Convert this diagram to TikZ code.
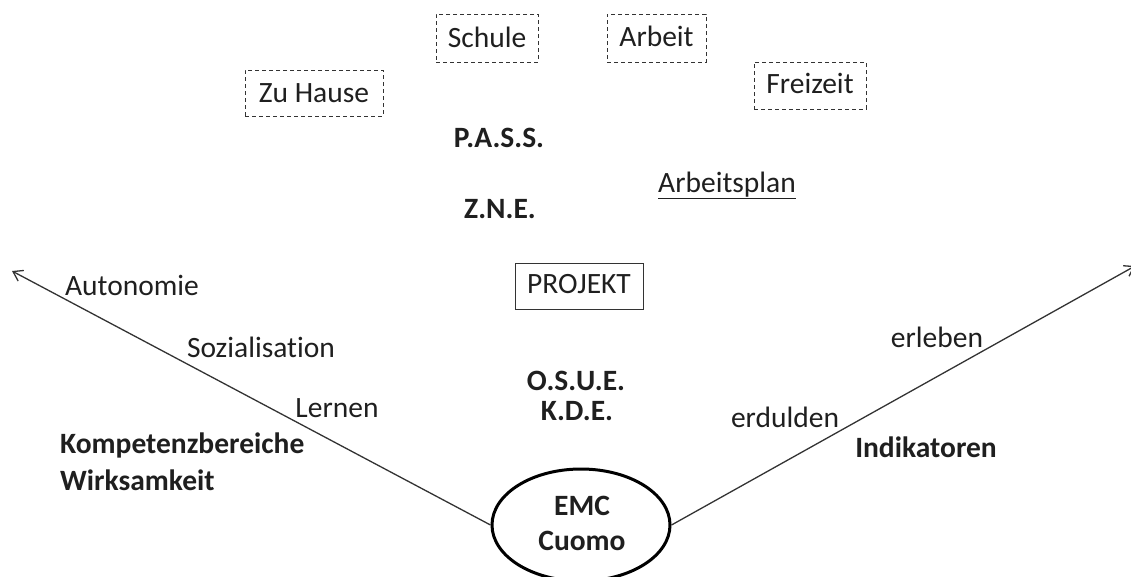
\documentclass[tikz,border=0pt]{standalone}
\usepackage{fontspec}
\setmainfont{Carlito}[Ligatures={NoCommon}]
\usetikzlibrary{shapes.geometric,arrows.meta}
\begin{document}
\begin{tikzpicture}[x=1pt,y=-1pt,
  every node/.style={font=\fontsize{29.5}{34}\selectfont, text=black!88, inner sep=0pt},
  lbl/.style={anchor=base},
  lblw/.style={anchor=base west},
  bld/.style={font=\fontsize{29.5}{34}\selectfont\bfseries},
  dbox/.style={draw=black!80, dashed, dash pattern=on 4pt off 3pt, line width=1pt},
  sbox/.style={draw=black!80, line width=1pt},
  axis/.style={draw=black!80, line width=1.3pt, -{Straight Barb[length=9pt,width=12pt]}}
]
\useasboundingbox (0,0) rectangle (1131,576);

% dashed boxes
\node[dbox, minimum width=102pt, minimum height=48pt] (schule) at (487,38) {};
\node[lbl] (schuleT) at (schule.center |- 0,47) {Schule};
\node[dbox, minimum width=99pt, minimum height=48pt] (arbeit) at (656.5,38) {};
\node[lbl] (arbeitT) at (arbeit.center |- 0,46) {Arbeit};
\node[dbox, minimum width=138pt, minimum height=46pt] (hause) at (314,93) {};
\node[lbl] (hauseT) at (hause.center |- 0,102) {Zu Hause};
\node[dbox, minimum width=112pt, minimum height=47pt] (freizeit) at (810,85.5) {};
\node[lbl] (freizeitT) at (freizeit.center |- 0,93) {Freizeit};

% middle column
\node[lbl, bld] (pass) at (499,147) {P.A.S.S.};
\node[lbl, bld] (zne) at (500,218) {Z.N.E.};
\node[lbl] (plan) at (727,192) {\underline{Arbeitsplan}};
\node[sbox, minimum width=128pt, minimum height=46pt] (projekt) at (579,286) {};
\node[lbl] (projektT) at (projekt.center |- 0,293) {PROJEKT};
\node[lbl, bld] (osue) at (576,390) {O.S.U.E.};
\node[lbl, bld] (kde) at (577,420) {K.D.E.};

% ellipse
\node[ellipse, draw=black, line width=3pt, minimum width=178pt, minimum height=112pt] (emc) at (581,525) {};
\node[lbl, bld] (emcT) at (582,515) {EMC};
\node[lbl, bld] (cuomo) at (582,550) {Cuomo};

% axes
\coordinate (tipL) at (12,271);
\coordinate (tipR) at (1135,266);
\draw[axis] (emc.west) -- (tipL);
\draw[axis] (emc.east) -- (tipR);

% left labels
\node[lbl] (auto) at (132,295) {Autonomie};
\node[lbl] (sozial) at (261,357) {Sozialisation};
\node[lbl] (lernen) at (337,417) {Lernen};
\node[lblw, bld] (komp) at (60,453) {Kompetenzbereiche};
\node[lblw, bld] (wirk) at (60,490) {Wirksamkeit};

% right labels
\node[lbl] (erleben) at (937,347) {erleben};
\node[lbl] (erdulden) at (785,427) {erdulden};
\node[lbl, bld] (indi) at (926,457) {Indikatoren};
\end{tikzpicture}
\end{document}
